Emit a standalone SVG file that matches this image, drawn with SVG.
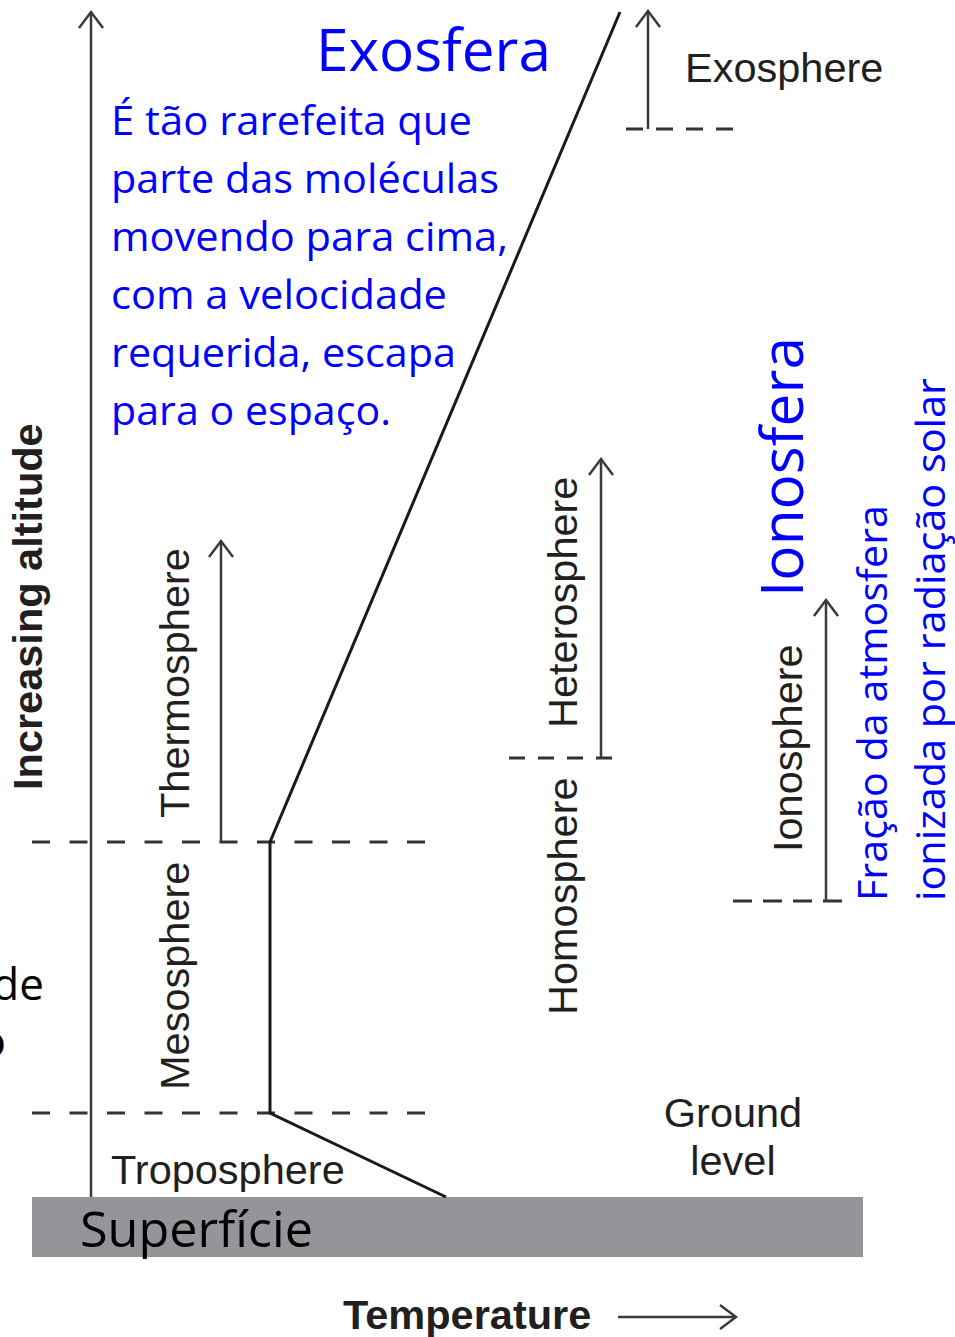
<svg xmlns="http://www.w3.org/2000/svg" width="955" height="1337" viewBox="0 0 955 1337">
  <style>
    .en { font-family: "Liberation Sans", Arial, sans-serif; font-size: 41.5px; fill: #231f20; }
    .bold { font-weight: bold; }
    .pt { font-family: "Open Sans", "Noto Sans", sans-serif; fill: #0000ff; }
    .blk { font-family: "Open Sans", "Noto Sans", sans-serif; fill: #000000; }
    .axis { stroke: #3a3a3a; stroke-width: 2.5; fill: none; }
    .dash { stroke: #333333; stroke-width: 3; fill: none; }
    .d1 { stroke-dasharray: 18 19.5; }
    .d2 { stroke-dasharray: 17 13; }
    .d3 { stroke-dasharray: 16 13; }
    .d4 { stroke-dasharray: 19 11; }
    .profile { stroke: #1a1a1a; stroke-width: 3; fill: none; stroke-linejoin: miter; }
  </style>
  <defs>
    <marker id="open" markerUnits="userSpaceOnUse" markerWidth="40" markerHeight="40" viewBox="-20 -20 40 40" refX="0" refY="0" orient="auto" overflow="visible">
      <path d="M-16,-12 L0,0 L-16,12" fill="none" stroke="#3a3a3a" stroke-width="2.5" stroke-linejoin="miter"/>
    </marker>
  </defs>

  <rect width="955" height="1337" fill="#ffffff"/>

  <g id="ground">
    <rect x="32" y="1197" width="831" height="60" fill="#939598"/>
    <text class="blk" x="80" y="1247" font-size="50" textLength="233" lengthAdjust="spacingAndGlyphs">Superfície</text>
  </g>

  <g id="connectors">
    <line class="dash d1" x1="32" y1="842" x2="430" y2="842"/>
    <line class="dash d1" x1="32" y1="1113" x2="430" y2="1113"/>
    <line class="dash d2" x1="626" y1="129" x2="735" y2="129"/>
    <line class="dash d3" x1="509" y1="758" x2="615" y2="758"/>
    <line class="dash d4" x1="733" y1="901" x2="842" y2="901"/>
    <line class="axis" x1="91" y1="1197" x2="91" y2="12" marker-end="url(#open)"/>
    <line class="axis" x1="648" y1="129" x2="648" y2="11" marker-end="url(#open)"/>
    <line class="axis" x1="221" y1="842" x2="221" y2="541" marker-end="url(#open)"/>
    <line class="axis" x1="601" y1="758" x2="601" y2="459" marker-end="url(#open)"/>
    <line class="axis" x1="826" y1="901" x2="826" y2="600" marker-end="url(#open)"/>
    <line class="axis" x1="618" y1="1317" x2="736" y2="1317" marker-end="url(#open)"/>
    <polyline id="profile" class="profile" points="446,1197 270,1113 270,842 620,12"/>
  </g>

  <g id="axis-labels">
    <text class="en bold" transform="translate(42,790) rotate(-90)">Increasing altitude</text>
    <text class="en bold" x="343" y="1329">Temperature</text>
  </g>

  <g id="layer-labels">
    <text class="en" x="685" y="82">Exosphere</text>
    <text class="en" transform="translate(189,818) rotate(-90)">Thermosphere</text>
    <text class="en" transform="translate(189,1090) rotate(-90)">Mesosphere</text>
    <text class="en" x="111" y="1184">Troposphere</text>
    <text class="en" transform="translate(577,728) rotate(-90)">Heterosphere</text>
    <text class="en" transform="translate(577,1015) rotate(-90)">Homosphere</text>
    <text class="en" transform="translate(802,852) rotate(-90)">Ionosphere</text>
    <text class="en" x="733" y="1127" text-anchor="middle">Ground</text>
    <text class="en" x="733" y="1175" text-anchor="middle">level</text>
  </g>

  <g id="exosfera-note">
    <text class="pt" x="316" y="71" font-size="58" textLength="235" lengthAdjust="spacingAndGlyphs">Exosfera</text>
    <text class="pt" x="111" y="135" font-size="41" textLength="361" lengthAdjust="spacingAndGlyphs">É tão rarefeita que</text>
    <text class="pt" x="111" y="193" font-size="41" textLength="388" lengthAdjust="spacingAndGlyphs">parte das moléculas</text>
    <text class="pt" x="111" y="251" font-size="41" textLength="397" lengthAdjust="spacingAndGlyphs">movendo para cima,</text>
    <text class="pt" x="111" y="309" font-size="41" textLength="336" lengthAdjust="spacingAndGlyphs">com a velocidade</text>
    <text class="pt" x="111" y="367" font-size="41" textLength="345" lengthAdjust="spacingAndGlyphs">requerida, escapa</text>
    <text class="pt" x="111" y="425" font-size="41" textLength="280" lengthAdjust="spacingAndGlyphs">para o espaço.</text>
  </g>

  <g id="ionosfera-note">
    <text class="pt" transform="translate(803,597) rotate(-90)" font-size="58" textLength="260" lengthAdjust="spacingAndGlyphs">Ionosfera</text>
    <text class="pt" transform="translate(887,901) rotate(-90)" font-size="41" textLength="396" lengthAdjust="spacingAndGlyphs">Fração da atmosfera</text>
    <text class="pt" transform="translate(945,901) rotate(-90)" font-size="41" textLength="523" lengthAdjust="spacingAndGlyphs">ionizada por radiação solar</text>
  </g>

  <g id="cut-text">
    <text class="blk" x="44" y="1000" font-size="44" text-anchor="end">de</text>
    <text class="blk" x="6" y="1057" font-size="44" text-anchor="end">o</text>
  </g>
</svg>
